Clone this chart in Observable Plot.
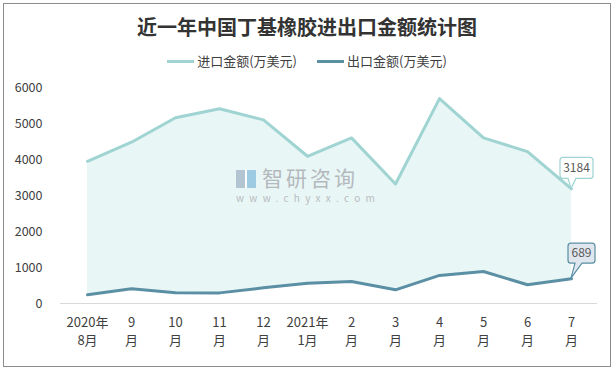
<!DOCTYPE html>
<html><head><meta charset="utf-8">
<script src="https://cdn.jsdelivr.net/npm/d3@7"></script>
<script src="https://cdn.jsdelivr.net/npm/@observablehq/plot@0.6"></script>
<style>
html,body{margin:0;padding:0;background:#fff;}
#wrap{position:relative;width:614px;height:371px;overflow:hidden;font-family:"Noto Sans CJK SC","Noto Sans",sans-serif;}
#frame{position:absolute;left:3px;top:3px;width:606px;height:362px;border:1px solid #8c8c8c;box-sizing:content-box;}
#title{position:absolute;left:0;width:614px;top:12px;text-align:center;font-size:20px;font-weight:bold;color:#333;line-height:30px;}
#legend{position:absolute;left:0;width:614px;top:51px;text-align:center;font-size:13px;color:#404040;line-height:20px;}
#legend span.item{display:inline-block;margin:0 10px;}
#legend span.sw{display:inline-block;width:27px;height:3px;vertical-align:middle;margin-right:3px;position:relative;top:-1px;}
#wm{position:absolute;left:236px;top:166px;color:#b4b9bd;}
#wm .t{font-size:21px;letter-spacing:3px;line-height:22px;height:22px;}
#wm .u{font-size:10px;letter-spacing:5.3px;line-height:11px;color:#b8bcc0;margin-top:4px;}
#wm .logo{display:inline-block;width:20px;height:18px;vertical-align:-2px;margin-right:6px;background:linear-gradient(90deg,#a9bccb 0 45%,#fff 45% 55%,#8fc3df 55% 100%);opacity:.85;}
#chart{position:absolute;left:0;top:0;}
</style></head>
<body>
<div id="wrap">
  <div id="chart"></div>
  <div id="frame"></div>
  <div id="title">近一年中国丁基橡胶进出口金额统计图</div>
  <div id="legend"></div>
  <div id="wm"><div class="t"><span class="logo"></span>智研咨询</div><div class="u">www.chyxx.com</div></div>
</div>
<script>
const months = ["2020年\n8月","9\n月","10\n月","11\n月","12\n月","2021年\n1月","2\n月","3\n月","4\n月","5\n月","6\n月","7\n月"];
const importValues = [3950,4480,5160,5410,5100,4090,4600,3320,5690,4600,4220,3184];
const exportValues = [240,410,300,295,435,560,610,380,780,890,520,689];
const seriesNames = ["进口金额(万美元)","出口金额(万美元)"];
const yTicks = [0,1000,2000,3000,4000,5000,6000];

const impColor = "#9fd4d2", expColor = "#5b8fa4", areaFill = "#e9f6f6";
const data = months.map((m,i)=>({month:m, imp:importValues[i], exp:exportValues[i]}));

document.getElementById("legend").innerHTML =
  `<span class="item"><span class="sw" style="background:${impColor}"></span>${seriesNames[0]}</span>` +
  `<span class="item"><span class="sw" style="background:${expColor}"></span>${seriesNames[1]}</span>`;

function callout(key, stroke, fill, opt) {
  return (index, scales, values, dimensions, context) => {
    const last = data[data.length-1];
    const px = scales.x(last.month), py = scales.y(last[key]);
    const g = d3.create("svg:g");
    const L = px + opt.dx, T = py + opt.dy, W = opt.w, H = opt.h, r = 3;
    const b0 = px + opt.p0, b1 = px + opt.p1;
    const path = `M${L+r},${T} H${L+W-r} Q${L+W},${T} ${L+W},${T+r} V${T+H-r} Q${L+W},${T+H} ${L+W-r},${T+H} H${b1} L${px},${py} L${b0},${T+H} H${L+r} Q${L},${T+H} ${L},${T+H-r} V${T+r} Q${L},${T} ${L+r},${T} Z`;
    g.append("path").attr("d", path).attr("fill", fill).attr("stroke", stroke).attr("stroke-width", 1.2);
    g.append("text").attr("x", L+W/2).attr("y", T+H/2).attr("dy","0.35em").attr("text-anchor","middle")
      .attr("font-size", 12).attr("fill", "#595959").text(String(last[key]));
    return g.node();
  };
}

const chart = Plot.plot({
  width: 614, height: 371,
  marginTop: 87, marginBottom: 68, marginLeft: 60, marginRight: 17,
  style: {fontFamily: '"Noto Sans CJK SC","Noto Sans",sans-serif', color: "#404040", background: "transparent", overflow: "visible"},
  x: {type: "point", domain: months, padding: 0.5, axis: null},
  y: {domain: [0, 6000], axis: null},
  marks: [
    Plot.areaY(data, {x: "month", y1: "exp", y2: "imp", fill: areaFill}),
    Plot.ruleY([0], {stroke: "#d9d9d9", strokeWidth: 1.2}),
    Plot.lineY(data, {x: "month", y: "imp", stroke: impColor, strokeWidth: 3}),
    Plot.lineY(data, {x: "month", y: "exp", stroke: expColor, strokeWidth: 3}),
    Plot.axisY({ticks: yTicks, tickFormat: d => String(d), tickSize: 0, tickPadding: 18, fontSize: 12.5, label: null, fill: "#404040"}),
    Plot.axisX({tickSize: 0, tickPadding: 11, fontSize: 13, lineHeight: 1.38, label: null, fill: "#404040"}),
    callout("imp", impColor, "#ffffff", {dx: -11, dy: -31, w: 33, h: 21, p0: -3, p1: 5}),
    callout("exp", expColor, "#dfe6ee", {dx: -3, dy: -35, w: 27, h: 20, p0: 4, p1: 11})
  ]
});
document.getElementById("chart").appendChild(chart);
</script>
</body></html>
